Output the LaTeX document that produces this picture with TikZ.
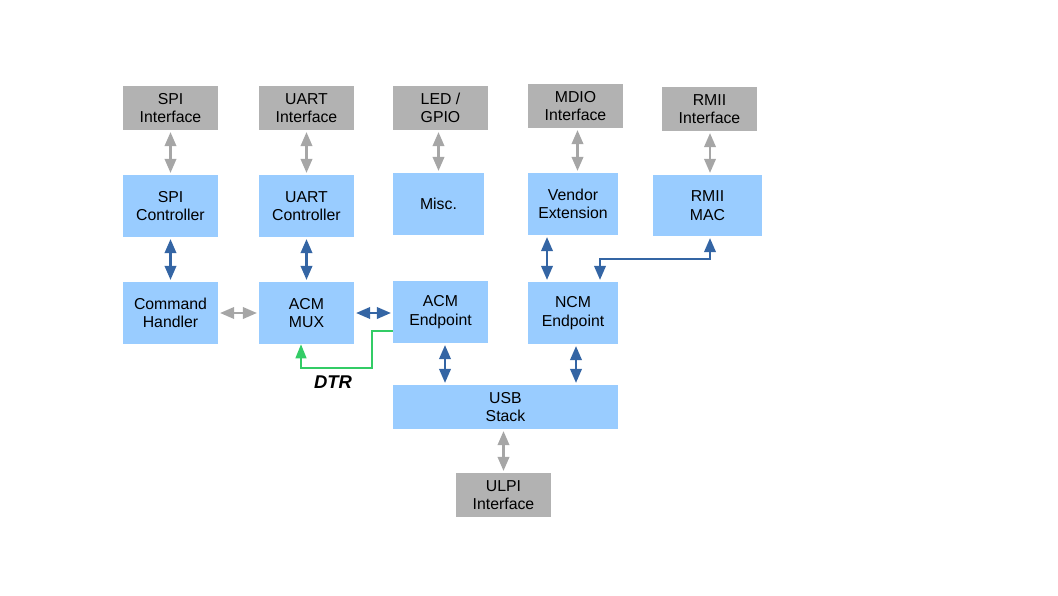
\documentclass[tikz,border=0pt]{standalone}
\usepackage{fontspec}
\setmainfont{Liberation Sans}
\usetikzlibrary{arrows.meta}

\definecolor{boxblue}{HTML}{99CCFF}
\definecolor{boxgray}{HTML}{B2B2B2}
\definecolor{linkblue}{HTML}{3465A4}
\definecolor{linkgray}{HTML}{A6A6A6}
\definecolor{linkgreen}{HTML}{33CC66}

\begin{document}
\begin{tikzpicture}[x=0.02cm,y=-0.02cm,
  block/.style={fill=boxblue,inner sep=0pt,align=center,font=\fontsize{9}{10.4}\selectfont,
    minimum width=1.9cm,minimum height=1.24cm},
  port/.style={block,fill=boxgray,minimum height=0.88cm},
  bluelink/.style={draw=linkblue,line width=1.2pt,shorten <=1pt,shorten >=1pt,
    {Triangle[width=0.23cm,length=0.28cm]}-{Triangle[width=0.23cm,length=0.28cm]}},
  graylink/.style={bluelink,draw=linkgray,fill=linkgray},
  dtrlink/.style={draw=linkgreen,line width=0.8pt,-{Triangle[width=0.22cm,length=0.28cm]}}]

\useasboundingbox (0,0) rectangle (1058,595);

% interfaces on top
\node[port] (spiif) at (170.5,108) {SPI\\Interface};
\node[port] (uartif) at (306.5,108) {UART\\Interface};
\node[port] (ledif) at (440.5,108) {LED /\\GPIO};
\node[port] (mdioif) at (575.5,106) {MDIO\\Interface};
\node[port] (rmiiif) at (709.5,109) {RMII\\Interface};

% controllers
\node[block] (spictl) at (170.5,206) {SPI\\Controller};
\node[block] (uartctl) at (306.5,206) {UART\\Controller};
\node[block,minimum width=1.82cm] (misc) at (438.5,204) {Misc.};
\node[block,minimum width=1.8cm] (vendor) at (573,204) {Vendor\\Extension};
\node[block,minimum width=2.18cm,minimum height=1.22cm] (rmiimac) at (707.5,205.5) {RMII\\MAC};

% middle row
\node[block] (cmd) at (170.5,313) {Command\\Handler};
\node[block] (mux) at (306.5,313) {ACM\\MUX};
\node[block] (acmep) at (440.5,312) {ACM\\Endpoint};
\node[block,minimum width=1.8cm] (ncmep) at (573,313) {NCM\\Endpoint};

% usb
\node[block,minimum width=4.5cm,minimum height=0.88cm] (usb) at (505.5,407) {USB\\Stack};
\node[port] (ulpi) at (503.5,495) {ULPI\\Interface};

% gray links
\draw[graylink] (spiif) -- (spictl);
\draw[graylink] (uartif) -- (uartctl);
\draw[graylink] (ledif.south -| misc.north) -- (misc);
\draw[graylink] ([xshift=0.04cm]mdioif.south) -- ([xshift=0.04cm]mdioif.south |- vendor.north);
\draw[graylink] ([xshift=0.01cm]rmiiif.south) -- ([xshift=0.01cm]rmiiif.south |- rmiimac.north);
\draw[graylink] (cmd) -- (mux);
\draw[graylink] (ulpi.north) -- (ulpi.north |- usb.south);

% blue links
\draw[bluelink] (spictl) -- (cmd);
\draw[bluelink] (uartctl) -- (mux);
\draw[bluelink] (mux) -- (mux.east -| acmep.west);
\draw[bluelink] ([xshift=0.09cm]acmep.south) -- ([xshift=0.09cm]acmep.south |- usb.north);
\draw[bluelink] ([xshift=0.06cm]ncmep.south) -- ([xshift=0.06cm]ncmep.south |- usb.north);
\draw[bluelink] ([xshift=-0.52cm]vendor.south) -- ([xshift=-0.52cm]ncmep.north);
\coordinate (rmiibend) at (600,259);
\draw[bluelink] ([xshift=0.05cm]rmiimac.south) |- (rmiibend) -- (rmiibend |- ncmep.north);

% DTR
\coordinate (dtrbend) at (372,368);
\draw[dtrlink] ([yshift=-0.38cm]acmep.west) -| (dtrbend) -| ([xshift=-0.11cm]mux.south);
\node[font=\fontsize{10.5}{12}\selectfont\bfseries\itshape] (dtr) at (333,382) {DTR};

\end{tikzpicture}
\end{document}
